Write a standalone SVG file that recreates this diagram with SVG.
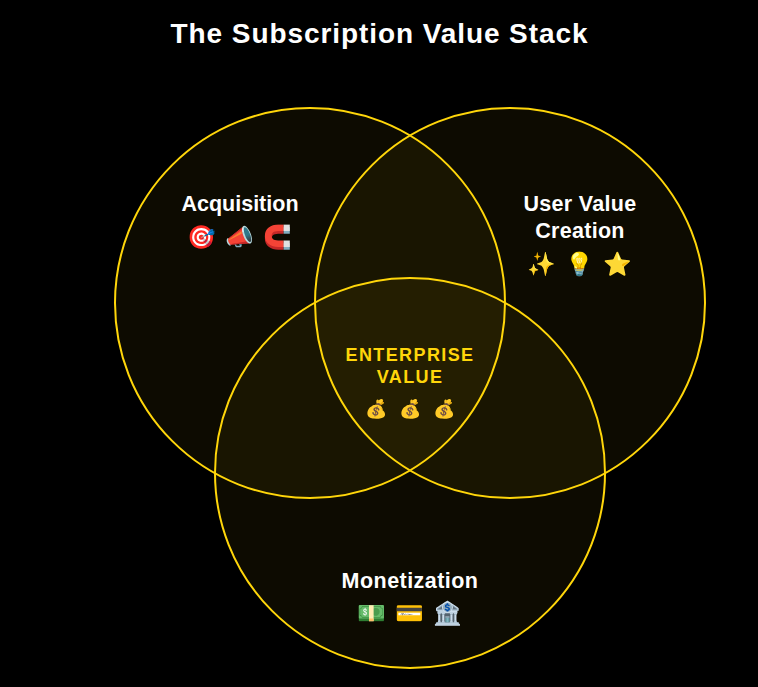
<svg xmlns="http://www.w3.org/2000/svg" width="758" height="687" viewBox="0 0 758 687">
<style>
text{font-family:"Liberation Sans",Arial,sans-serif;text-anchor:middle}
.t{font-size:28px;font-weight:700;fill:#fff;letter-spacing:.92px}
.l{font-size:21.5px;font-weight:700;fill:#fff}
.w{letter-spacing:.3px}
.e{font-size:18px;font-weight:700;fill:#FFD60A;letter-spacing:1.4px}
.i{font-size:23px}
.b{font-size:18px}
.c{fill:#FFD60A;fill-opacity:.05;stroke:#FFD60A;stroke-width:2}
</style>
<rect width="758" height="687" fill="#000"/>
<text class="t" x="379.500" y="43">The Subscription Value Stack</text>
<g id="acquisition"><circle class="c" cx="310" cy="303" r="195"/></g>
<g id="user-value"><circle class="c" cx="510" cy="303" r="195"/></g>
<g id="monetization"><circle class="c" cx="410" cy="473" r="195"/></g>
<g id="labels">
<text class="l" x="240" y="211">Acquisition</text>
<text class="i" x="201" y="245">🎯</text><text class="i" x="239" y="245">📣</text><text class="i" x="277" y="245">🧲</text>
<text class="l w" x="580" y="211">User Value</text>
<text class="l w" x="580" y="238">Creation</text>
<text class="i" x="541" y="272">✨</text><text class="i" x="579" y="272">💡</text><text class="i" x="617" y="272">⭐</text>
<text class="e" x="410" y="361">ENTERPRISE</text>
<text class="e" x="410" y="383">VALUE</text>
<text class="b" x="376" y="415">💰</text><text class="b" x="410" y="415">💰</text><text class="b" x="444" y="415">💰</text>
<text class="l" style="letter-spacing:.45px" x="410" y="588">Monetization</text>
<text class="i" x="371" y="621">💵</text><text class="i" x="409" y="621">💳</text><text class="i" x="447" y="621">🏦</text>
</g>
</svg>
